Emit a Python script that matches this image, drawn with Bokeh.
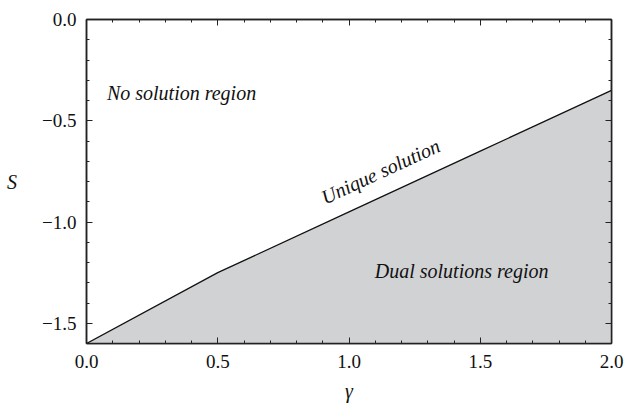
from bokeh.plotting import figure
from bokeh.models import (LinearAxis, FixedTicker, CustomJSTickFormatter, Label, Range1d)
from bokeh.embed import file_html
from bokeh.resources import INLINE

# data
gamma = [0.0, 0.5, 1.0, 1.5, 2.0]
s_crit = [-1.6, -1.25, -0.95, -0.65, -0.35]
s_floor = [-1.6, -1.6, -1.6, -1.6, -1.6]
x_major = [0.0, 0.5, 1.0, 1.5, 2.0]
y_major = [0.0, -0.5, -1.0, -1.5]
x_minor = [i / 10 for i in range(0, 21)]
y_minor = [-i / 10 for i in range(0, 17)]

FONT = "Liberation Serif"
TICK_SIZE = "19px"

p = figure(width=625, height=405, output_backend="svg", toolbar_location=None,
           x_range=Range1d(0, 2), y_range=Range1d(-1.6, 0),
           min_border_left=86, min_border_right=14, min_border_top=19, min_border_bottom=62,
           background_fill_color="white", border_fill_color="white")
p.grid.visible = False
p.outline_line_color = "#222222"
p.outline_line_width = 1.5

p.varea(x=gamma, y1=s_floor, y2=s_crit, fill_color="#d1d2d4")
p.line(gamma, s_crit, line_color="#111111", line_width=1.3)

fmt = CustomJSTickFormatter(code="return tick.toFixed(1).replace('-', '\u2212');")

def style(ax, ticks, minor, labels=True):
    ax.ticker = FixedTicker(ticks=ticks, minor_ticks=minor)
    ax.formatter = fmt
    ax.major_tick_in = 6
    ax.major_tick_out = 0
    ax.minor_tick_in = 3
    ax.minor_tick_out = 0
    ax.axis_line_color = "#222222"
    ax.axis_line_width = 1.5
    ax.major_tick_line_color = "#222222"
    ax.minor_tick_line_color = "#222222"
    ax.major_label_text_font = FONT
    ax.major_label_text_font_size = TICK_SIZE
    ax.major_label_text_color = "#111111"
    if not labels:
        ax.major_label_text_font_size = "0px"
        ax.major_label_text_alpha = 0

style(p.xaxis[0], x_major, x_minor)
style(p.yaxis[0], y_major, y_minor)
p.xaxis[0].major_label_standoff = 11
p.yaxis[0].major_label_standoff = 10

p.xaxis[0].axis_label = "γ"
p.xaxis[0].axis_label_text_font = FONT
p.xaxis[0].axis_label_text_font_style = "italic"
p.xaxis[0].axis_label_text_font_size = "20px"
p.xaxis[0].axis_label_standoff = 9
p.xaxis[0].axis_label_text_color = "#111111"

p.yaxis[0].axis_label = "S"
p.yaxis[0].axis_label_orientation = "horizontal"
p.yaxis[0].axis_label_text_font = FONT
p.yaxis[0].axis_label_text_font_style = "italic"
p.yaxis[0].axis_label_text_font_size = "20px"
p.yaxis[0].axis_label_standoff = 22
p.yaxis[0].axis_label_text_color = "#111111"

top = LinearAxis()
style(top, x_major, x_minor, labels=False)
p.add_layout(top, "above")
right = LinearAxis()
style(right, y_major, y_minor, labels=False)
p.add_layout(right, "right")

def lab(x, y, text, angle=0.0):
    p.add_layout(Label(x=x, y=y, text=text, angle=angle, text_font=FONT,
                       text_font_style="italic", text_font_size="20px",
                       text_color="#111111", text_align="center",
                       text_baseline="middle"))

lab(0.362, -0.365, "No solution region")
lab(1.429, -1.24, "Dual solutions region")
lab(1.12, -0.75, "Unique solution", angle=0.433)

open("out.html", "w").write(file_html(p, INLINE))
